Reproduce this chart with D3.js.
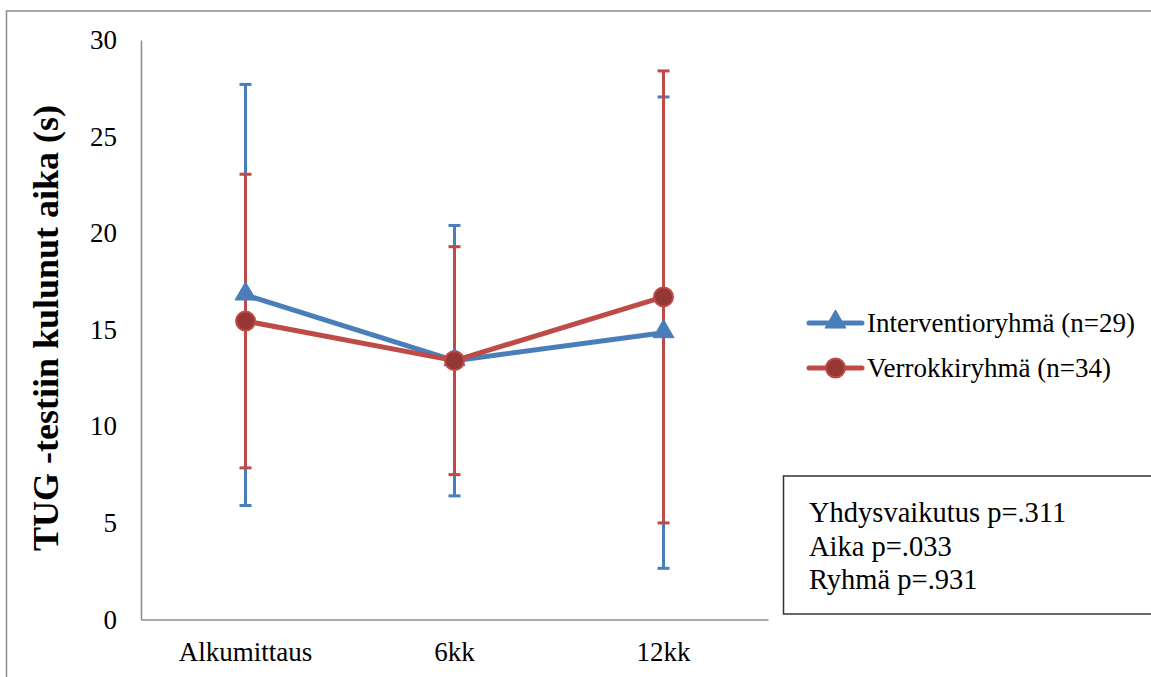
<!DOCTYPE html>
<html><head><meta charset="utf-8">
<script src="https://cdn.jsdelivr.net/npm/d3@7"></script>
<style>
html,body{margin:0;padding:0;background:#fff;}
svg{display:block;}
</style></head>
<body>
<svg id="chart" width="1151" height="677"></svg>
<script>
const categories = ["Alkumittaus", "6kk", "12kk"];
const seriesNames = ["Interventioryhmä (n=29)", "Verrokkiryhmä (n=34)"];
const interventionMean = [16.8, 13.4, 14.85];
const interventionSD = [10.9, 7.0, 12.2];
const controlMean = [15.45, 13.4, 16.7];
const controlSD = [7.6, 5.9, 11.7];
const yTicks = [0, 5, 10, 15, 20, 25, 30];
const yLabel = "TUG -testiin kulunut aika (s)";
const statsLines = ["Yhdysvaikutus p=.311", "Aika p=.033", "Ryhmä p=.931"];

const FONT = "'Liberation Serif', 'Times New Roman', Tinos, 'DejaVu Serif', serif";

const series = [
  {name: seriesNames[0], mean: interventionMean, sd: interventionSD, color: "#4A7EBB", fill: "#4A7EBB", marker: "triangle"},
  {name: seriesNames[1], mean: controlMean, sd: controlSD, color: "#BE4B48", fill: "#953735", marker: "circle"}
];

const svg = d3.select("#chart").style("font-family", FONT);

// outer frame
svg.append("rect").attr("x", 6.5).attr("y", 11).attr("width", 1160).attr("height", 700)
  .attr("fill", "none").attr("stroke", "#8c8c8c").attr("stroke-width", 1.5);

const x = d3.scaleBand().domain(categories).range([141, 768]).padding(0);
const y = d3.scaleLinear().domain([0, 30]).range([619.5, 40]);
const cx = c => x(c) + x.bandwidth() / 2;

// axes
const yAxis = svg.append("g").attr("transform", "translate(141,0)")
  .call(d3.axisLeft(y).tickValues(yTicks).tickSize(0).tickPadding(24).tickFormat(d3.format("d")));
yAxis.attr("font-family", null).attr("font-size", null);
yAxis.select(".domain").attr("stroke", "#8c8c8c").attr("stroke-width", 1.5);
yAxis.selectAll("text").style("font-family", FONT).style("font-size", "27px").attr("fill", "#000");

const xAxis = svg.append("g").attr("transform", "translate(0,619.5)")
  .call(d3.axisBottom(x).tickSize(0).tickPadding(22));
xAxis.attr("font-family", null).attr("font-size", null);
xAxis.select(".domain").attr("stroke", "#8c8c8c").attr("stroke-width", 1.5);
xAxis.selectAll("text").style("font-family", FONT).style("font-size", "27px").attr("fill", "#000");

// y label
svg.append("text")
  .attr("transform", "translate(58,328) rotate(-90)")
  .attr("text-anchor", "middle")
  .style("font-family", FONT).style("font-size", "36px").style("font-weight", "bold")
  .text(yLabel);

// error bars
const capW = 6;
series.forEach(s => {
  const g = svg.append("g").attr("stroke", s.color).attr("stroke-width", 3);
  categories.forEach((c, i) => {
    const hi = y(s.mean[i] + s.sd[i]), lo = y(s.mean[i] - s.sd[i]);
    g.append("line").attr("x1", cx(c)).attr("x2", cx(c)).attr("y1", hi).attr("y2", lo);
    g.append("line").attr("x1", cx(c) - capW).attr("x2", cx(c) + capW).attr("y1", hi).attr("y2", hi);
    g.append("line").attr("x1", cx(c) - capW).attr("x2", cx(c) + capW).attr("y1", lo).attr("y2", lo);
  });
});

function drawMarker(g, type, px, py, s) {
  if (type === "triangle") {
    g.append("path")
      .attr("d", d3.symbol().type(d3.symbolTriangle).size(190)())
      .attr("transform", `translate(${px},${py - 1})`)
      .attr("fill", s.fill).attr("stroke", s.color).attr("stroke-width", 1);
  } else {
    g.append("circle").attr("cx", px).attr("cy", py).attr("r", 9.5)
      .attr("fill", s.fill).attr("stroke", s.color).attr("stroke-width", 2);
  }
}

// lines + markers
const line = d3.line().x((d, i) => cx(categories[i])).y(d => y(d));
series.forEach(s => {
  const g = svg.append("g");
  g.append("path").datum(s.mean).attr("d", line)
    .attr("fill", "none").attr("stroke", s.color).attr("stroke-width", 5).attr("stroke-linejoin", "round");
  s.mean.forEach((v, i) => drawMarker(g, s.marker, cx(categories[i]), y(v), s));
});

// legend
const legendY = [323, 368];
series.forEach((s, i) => {
  const g = svg.append("g");
  g.append("line").attr("x1", 809).attr("x2", 862).attr("y1", legendY[i]).attr("y2", legendY[i])
    .attr("stroke", s.color).attr("stroke-width", 5).attr("stroke-linecap", "round");
  drawMarker(g, s.marker, 835.5, legendY[i], s);
  g.append("text").attr("x", 867).attr("y", legendY[i]).attr("dy", "0.35em")
    .style("font-family", FONT).style("font-size", "27px").text(s.name);
});

// stats box
svg.append("rect").attr("x", 783.5).attr("y", 476).attr("width", 400).attr("height", 138)
  .attr("fill", "#fff").attr("stroke", "#333").attr("stroke-width", 1.5);
statsLines.forEach((t, i) => {
  svg.append("text").attr("x", 809).attr("y", 522 + i * 33.5)
    .style("font-family", FONT).style("font-size", "28.5px").text(t);
});
</script>
</body></html>
